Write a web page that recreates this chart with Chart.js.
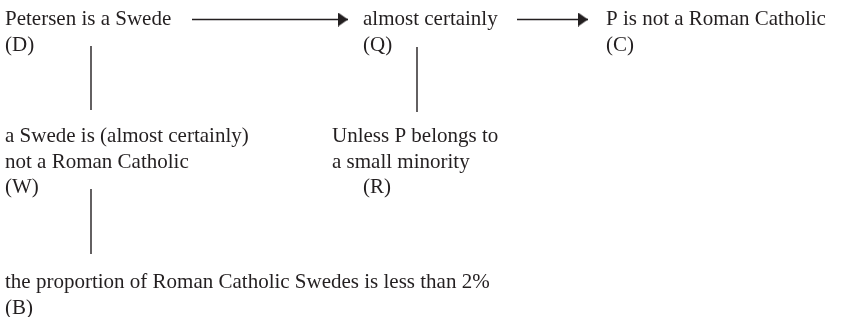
<!DOCTYPE html>
<html>
<head>
<meta charset="utf-8">
<script src="https://cdn.jsdelivr.net/npm/chart.js@4.4.0/dist/chart.umd.min.js"></script>
<style>
  html, body { margin: 0; padding: 0; background: #ffffff; }
  #wrap { width: 842px; height: 317px; }
</style>
</head>
<body>
<div id="wrap"><canvas id="c" width="842" height="317"></canvas></div>
<script>
// ---- content (text of each node of the Toulmin diagram) ----
const nodeIds   = ["D", "Q", "C", "W", "R", "B"];
const nodeLines = [
  ["Petersen is a Swede", "(D)"],
  ["almost certainly", "(Q)"],
  ["P is not a Roman Catholic", "(C)"],
  ["a Swede is (almost certainly)", "not a Roman Catholic", "(W)"],
  ["Unless P belongs to", "a small minority", "(R)"],
  ["the proportion of Roman Catholic Swedes is less than 2%", "(B)"]
];
// links between nodes: [from, to, kind]
const links = [
  ["D", "Q", "arrow"],
  ["Q", "C", "arrow"],
  ["D", "W", "line"],
  ["Q", "R", "line"],
  ["W", "B", "line"]
];

// ---- layout (in scale units; x: 0..842, y: 0..317 top-down) ----
const layout = {
  D: { x: 5,   y: 25,  indentLast: 0 },
  Q: { x: 363, y: 25,  indentLast: 0 },
  C: { x: 606, y: 25,  indentLast: 0 },
  W: { x: 5,   y: 142, indentLast: 0 },
  R: { x: 332, y: 142, indentLast: 31 },
  B: { x: 5,   y: 288, indentLast: 0 }
};
const lineGap = 25.5;
const linkGeom = {
  "D-Q": { x1: 192, y1: 19.5, x2: 348, y2: 19.5 },
  "Q-C": { x1: 517, y1: 19.5, x2: 588, y2: 19.5 },
  "D-W": { x1: 91,  y1: 46,  x2: 91,  y2: 110 },
  "Q-R": { x1: 417, y1: 47,  x2: 417, y2: 112 },
  "W-B": { x1: 91,  y1: 189, x2: 91,  y2: 254 }
};
const FONT = "21px 'Liberation Serif', 'DejaVu Serif', serif";
const INK = "#231f20";

// arrowhead sprite: tip at the sprite centre
function makeArrowHead(len, half) {
  const cv = document.createElement("canvas");
  cv.width = len * 2; cv.height = half * 2;
  const g = cv.getContext("2d");
  g.fillStyle = INK;
  g.beginPath();
  g.moveTo(0, 0);
  g.lineTo(len, half);
  g.lineTo(0, half * 2);
  g.closePath();
  g.fill();
  return cv;
}
const arrowHead = makeArrowHead(10, 7);

const datasets = links.map(([a, b, kind]) => {
  const g = linkGeom[a + "-" + b];
  const isArrow = kind === "arrow";
  return {
    data: [{ x: g.x1, y: g.y1 }, { x: isArrow ? g.x2 - 4 : g.x2, y: g.y2 }, ...(isArrow ? [{ x: g.x2, y: g.y2 }] : [])],
    showLine: true,
    borderColor: INK,
    backgroundColor: INK,
    borderWidth: isArrow ? 1.3 : 1.4,
    pointRadius: isArrow ? [0, 0, 7] : 0,
    pointStyle: isArrow ? [false, false, arrowHead] : "circle",
    pointBorderWidth: 0
  };
});

const textPlugin = {
  id: "nodeText",
  afterDatasetsDraw(chart) {
    const ctx = chart.ctx, xs = chart.scales.x, ys = chart.scales.y;
    ctx.save();
    ctx.font = FONT;
    ctx.fillStyle = INK;
    ctx.textBaseline = "alphabetic";
    ctx.textAlign = "left";
    nodeIds.forEach((id, i) => {
      const L = layout[id];
      const lines = nodeLines[i];
      lines.forEach((t, j) => {
        const dx = (j === lines.length - 1) ? L.indentLast : 0;
        ctx.fillText(t, xs.getPixelForValue(L.x + dx), ys.getPixelForValue(L.y + j * lineGap));
      });
    });
    ctx.restore();
  }
};

new Chart(document.getElementById("c"), {
  type: "scatter",
  data: { datasets },
  options: {
    responsive: false,
    animation: false,
    layout: { padding: 0, autoPadding: false },
    plugins: { legend: { display: false }, tooltip: { enabled: false } },
    scales: {
      x: { type: "linear", min: 0, max: 842, display: false },
      y: { type: "linear", min: 0, max: 317, reverse: true, display: false }
    }
  },
  plugins: [textPlugin]
});
</script>
</body>
</html>
